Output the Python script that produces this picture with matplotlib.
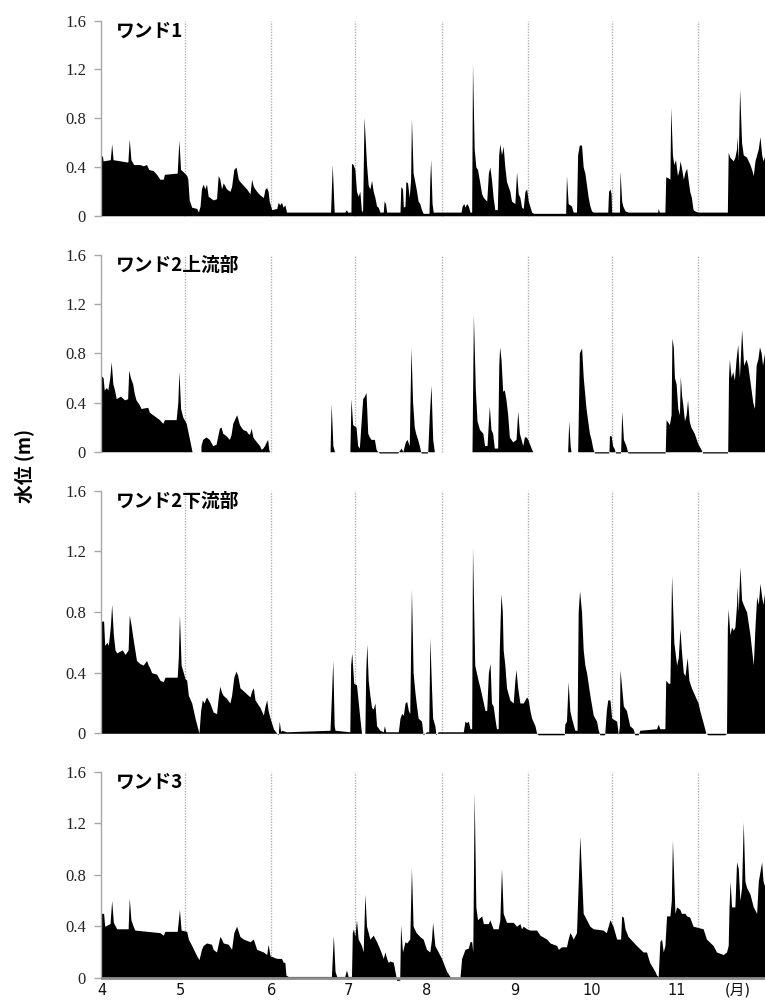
import matplotlib
matplotlib.use('Agg')

import numpy as np
import matplotlib.pyplot as plt

plt.rcParams['font.family'] = ['Noto Sans CJK JP', 'DejaVu Sans']

# === Data (day from Apr 1, water level m) ===
wando1 = [
    (0.0, 0.49), (0.4, 0.49), (0.6, 0.45), (3.2, 0.46), (3.7, 0.59), (4.2, 0.46), (9.5, 0.44),
    (10.0, 0.63), (10.6, 0.46), (11.6, 0.42), (13.8, 0.42), (15.0, 0.41), (16.2, 0.42), (17.0, 0.38),
    (18.6, 0.37), (19.8, 0.34), (21.0, 0.30), (22.2, 0.30), (22.6, 0.34), (27.2, 0.35), (27.8, 0.62),
    (28.4, 0.38), (29.4, 0.36), (30.6, 0.33), (31.0, 0.30), (31.5, 0.13), (32.4, 0.07), (34.2, 0.06),
    (34.8, 0.03), (35.4, 0.08), (35.9, 0.22), (36.5, 0.26), (37.1, 0.22), (37.7, 0.26), (38.3, 0.16),
    (38.9, 0.15), (40.1, 0.13), (41.3, 0.14), (41.9, 0.33), (42.5, 0.30), (43.1, 0.22), (43.7, 0.27),
    (44.9, 0.22), (46.1, 0.20), (46.7, 0.24), (47.5, 0.38), (48.3, 0.40), (49.1, 0.30), (49.7, 0.28),
    (50.9, 0.25), (52.1, 0.22), (52.7, 0.20), (53.3, 0.18), (53.9, 0.30), (54.5, 0.24), (55.7, 0.20),
    (56.9, 0.17), (58.1, 0.15), (58.7, 0.22), (59.3, 0.23), (59.8, 0.20), (60.2, 0.12), (60.7, 0.08),
    (61.1, 0.05), (62.9, 0.06), (63.4, 0.11), (64.0, 0.09), (64.6, 0.11), (65.2, 0.07), (65.8, 0.09),
    (66.4, 0.03), (82.2, 0.03), (82.8, 0.42), (83.5, 0.03), (87.3, 0.03), (87.9, 0.05), (88.3, 0.03),
    (89.5, 0.03), (89.7, 0.43), (90.3, 0.42), (90.9, 0.38), (91.5, 0.20), (92.1, 0.16), (92.7, 0.20),
    (93.3, 0.03), (93.7, 0.05), (94.2, 0.81), (95.1, 0.42), (95.7, 0.25), (96.3, 0.22), (96.9, 0.29),
    (97.5, 0.20), (98.1, 0.15), (98.7, 0.08), (99.3, 0.07), (99.9, 0.03), (101.1, 0.03), (101.4, 0.12),
    (101.9, 0.10), (102.3, 0.03), (107.1, 0.03), (107.4, 0.24), (108.0, 0.22), (108.3, 0.07),
    (108.9, 0.08), (109.2, 0.28), (109.8, 0.27), (110.4, 0.15), (110.9, 0.30), (111.2, 0.80),
    (111.8, 0.35), (112.4, 0.28), (112.9, 0.22), (113.6, 0.12), (114.2, 0.10), (114.8, 0.05),
    (115.4, 0.02), (117.5, 0.02), (117.8, 0.30), (118.1, 0.46), (118.6, 0.10), (119.0, 0.03),
    (129.0, 0.03), (129.4, 0.08), (130.0, 0.10), (130.4, 0.07), (131.0, 0.10), (131.6, 0.08),
    (132.2, 0.03), (132.8, 0.03), (133.1, 1.25), (133.7, 0.55), (134.3, 0.40), (134.9, 0.38),
    (135.5, 0.30), (136.4, 0.18), (137.0, 0.15), (138.2, 0.12), (138.8, 0.35), (139.3, 0.40),
    (139.9, 0.30), (140.5, 0.15), (141.1, 0.05), (142.0, 0.05), (142.5, 0.50), (142.9, 0.59),
    (143.5, 0.50), (144.1, 0.57), (144.7, 0.40), (145.3, 0.28), (146.5, 0.20), (147.1, 0.12),
    (148.3, 0.10), (148.9, 0.36), (149.5, 0.18), (150.1, 0.15), (150.7, 0.07), (151.3, 0.06),
    (151.9, 0.20), (152.5, 0.22), (153.1, 0.12), (154.3, 0.03), (155.0, 0.02), (166.5, 0.02),
    (166.8, 0.33), (167.4, 0.10), (168.6, 0.08), (169.2, 0.03), (170.4, 0.03), (170.8, 0.50),
    (171.4, 0.58), (172.2, 0.58), (172.8, 0.40), (173.4, 0.35), (174.0, 0.25), (174.6, 0.15),
    (175.2, 0.08), (175.8, 0.04), (176.4, 0.03), (181.6, 0.03), (181.9, 0.20), (182.4, 0.22),
    (182.8, 0.18), (183.0, 0.03), (185.8, 0.03), (186.0, 0.37), (186.6, 0.12), (187.0, 0.08),
    (187.8, 0.04), (188.9, 0.03), (199.5, 0.03), (199.7, 0.06), (200.1, 0.03), (202.1, 0.03),
    (202.4, 0.32), (203.3, 0.31), (203.9, 0.30), (204.2, 0.89), (204.8, 0.50), (205.3, 0.42),
    (205.9, 0.46), (206.6, 0.33), (207.2, 0.38), (207.5, 0.45), (208.0, 0.40), (208.7, 0.30),
    (209.3, 0.36), (209.9, 0.39), (210.4, 0.30), (211.0, 0.20), (211.6, 0.15), (212.2, 0.05),
    (212.8, 0.04), (214.0, 0.03), (224.5, 0.03), (224.8, 0.52), (225.4, 0.48), (226.6, 0.45),
    (227.2, 0.48), (227.8, 0.55), (228.0, 0.65), (228.4, 0.45), (228.9, 1.04), (229.6, 0.60),
    (230.2, 0.50), (231.4, 0.48), (232.0, 0.45), (232.6, 0.42), (233.2, 0.38), (233.8, 0.33),
    (234.4, 0.45), (235.0, 0.50), (235.6, 0.55), (236.2, 0.65), (236.8, 0.50), (237.3, 0.45),
    (238.0, 0.50),
]

wando2_up = [
    (0.0, 0.62), (0.8, 0.60), (1.2, 0.50), (2.0, 0.52), (2.5, 0.50), (3.2, 0.60), (3.7, 0.73),
    (4.3, 0.55), (4.9, 0.50), (5.5, 0.43), (7.0, 0.45), (8.5, 0.42), (9.6, 0.43), (10.0, 0.66),
    (10.6, 0.60), (11.4, 0.55), (12.0, 0.47), (12.6, 0.42), (13.8, 0.38), (14.4, 0.35), (16.8, 0.36),
    (17.4, 0.32), (18.6, 0.30), (19.8, 0.28), (21.0, 0.26), (22.2, 0.23), (22.8, 0.26), (27.0, 0.26),
    (27.6, 0.40), (28.0, 0.65), (28.6, 0.35), (29.4, 0.28), (30.6, 0.23), (31.8, 0.10), (32.7, 0.00),
    (32.8, np.nan), (35.8, np.nan), (35.9, 0.05), (36.5, 0.10), (37.7, 0.12), (38.9, 0.10),
    (40.1, 0.05), (41.3, 0.06), (42.5, 0.19), (43.1, 0.20), (43.7, 0.15), (44.9, 0.13), (46.1, 0.10),
    (46.7, 0.14), (47.3, 0.23), (48.3, 0.28), (48.7, 0.30), (49.7, 0.22), (50.9, 0.18), (52.1, 0.17),
    (52.7, 0.15), (53.3, 0.14), (53.9, 0.19), (54.5, 0.12), (55.1, 0.10), (56.9, 0.05), (57.5, 0.02),
    (58.1, 0.03), (58.7, 0.05), (59.3, 0.08), (59.8, 0.10), (60.2, 0.02), (60.5, 0.00), (82.2, 0.00),
    (82.6, 0.39), (83.2, 0.05), (83.8, 0.00), (89.3, 0.00), (89.7, 0.43), (90.3, 0.22), (91.5, 0.20),
    (92.1, 0.05), (92.7, 0.03), (93.9, 0.43), (94.5, 0.45), (95.1, 0.48), (95.7, 0.15), (96.3, 0.12),
    (96.9, 0.10), (98.1, 0.10), (98.7, 0.02), (99.3, 0.00), (99.9, -0.01), (106.5, -0.01),
    (107.7, 0.03), (108.3, 0.00), (109.2, 0.08), (109.8, 0.10), (110.6, 0.05), (111.2, 0.84),
    (111.8, 0.40), (112.4, 0.20), (112.9, 0.15), (113.6, 0.10), (114.2, 0.05), (114.8, -0.01),
    (117.2, -0.01), (117.8, 0.30), (118.4, 0.54), (119.0, 0.10), (119.6, 0.00), (133.1, 0.00),
    (133.6, 1.11), (134.3, 0.50), (134.9, 0.25), (135.8, 0.18), (137.0, 0.15), (137.6, 0.05),
    (138.5, 0.05), (139.3, 0.37), (139.9, 0.18), (140.5, 0.15), (141.1, 0.03), (142.3, 0.03),
    (142.7, 0.70), (143.0, 0.85), (143.5, 0.75), (144.1, 0.49), (144.7, 0.50), (145.3, 0.42),
    (145.9, 0.30), (146.5, 0.12), (147.7, 0.08), (148.9, 0.10), (149.5, 0.33), (150.1, 0.15),
    (150.7, 0.10), (151.3, 0.05), (151.9, 0.12), (152.5, 0.12), (153.1, 0.10), (154.3, 0.03),
    (154.9, 0.00), (167.4, 0.00), (167.8, 0.25), (168.3, 0.05), (168.6, 0.00), (171.0, 0.00),
    (171.6, 0.80), (172.4, 0.84), (173.0, 0.60), (173.4, 0.50), (174.0, 0.35), (174.6, 0.25),
    (175.2, 0.15), (175.8, 0.10), (176.4, 0.03), (177.0, -0.01), (182.2, -0.01), (182.4, 0.13),
    (183.0, 0.13), (183.5, 0.05), (184.2, 0.02), (184.5, -0.01), (186.4, -0.01), (186.8, 0.33),
    (187.4, 0.10), (188.3, 0.05), (189.0, -0.01), (202.4, -0.01), (202.7, 0.26), (203.3, 0.24),
    (203.9, 0.22), (204.5, 0.30), (204.8, 0.92), (205.3, 0.85), (205.7, 0.60), (206.3, 0.55),
    (206.9, 0.35), (207.5, 0.30), (207.8, 0.61), (208.3, 0.45), (208.7, 0.38), (209.3, 0.25),
    (209.9, 0.30), (210.4, 0.42), (211.0, 0.25), (211.6, 0.20), (212.8, 0.15), (214.0, 0.07),
    (215.2, 0.02), (215.8, -0.01), (224.8, -0.01), (225.1, 0.60), (225.4, 0.75), (226.0, 0.60),
    (226.6, 0.65), (227.2, 0.58), (227.8, 0.75), (228.4, 0.87), (229.0, 0.60), (229.8, 0.99),
    (230.5, 0.70), (231.4, 0.75), (232.0, 0.70), (233.2, 0.50), (233.8, 0.40), (234.4, 0.35),
    (235.0, 0.70), (235.6, 0.75), (236.2, 0.85), (236.8, 0.80), (237.3, 0.70), (238.0, 0.80),
]

wando2_down = [
    (0.0, 0.74), (0.8, 0.74), (1.2, 0.58), (2.0, 0.60), (2.5, 0.58), (3.2, 0.70), (3.7, 0.85),
    (4.3, 0.65), (4.9, 0.55), (5.5, 0.53), (7.5, 0.55), (8.5, 0.52), (9.6, 0.55), (10.0, 0.78),
    (10.6, 0.72), (11.4, 0.62), (12.0, 0.55), (12.6, 0.48), (13.8, 0.46), (15.0, 0.45), (16.2, 0.48),
    (16.8, 0.45), (17.4, 0.43), (18.0, 0.40), (19.8, 0.39), (21.0, 0.35), (22.2, 0.34), (22.8, 0.37),
    (27.2, 0.37), (27.6, 0.50), (28.0, 0.78), (28.6, 0.45), (29.4, 0.40), (30.0, 0.36), (30.6, 0.35),
    (31.2, 0.25), (32.4, 0.20), (33.6, 0.10), (35.0, 0.00), (35.6, 0.15), (36.2, 0.22), (36.8, 0.20),
    (37.7, 0.24), (38.9, 0.20), (40.1, 0.14), (41.3, 0.13), (42.0, 0.25), (42.5, 0.31), (43.1, 0.27),
    (43.7, 0.25), (44.9, 0.23), (46.1, 0.20), (46.7, 0.25), (47.5, 0.37), (48.3, 0.41), (48.9, 0.38),
    (49.7, 0.30), (50.9, 0.28), (52.1, 0.26), (53.3, 0.24), (53.9, 0.28), (54.5, 0.30), (55.1, 0.22),
    (56.9, 0.17), (58.1, 0.12), (58.7, 0.18), (59.3, 0.22), (59.8, 0.15), (60.5, 0.10), (61.7, 0.03),
    (62.9, 0.00), (63.4, -0.01), (63.8, 0.08), (64.3, 0.01), (64.6, 0.02), (66.4, 0.01), (82.0, 0.02),
    (82.4, 0.20), (83.0, 0.48), (83.5, 0.05), (83.8, 0.02), (89.1, 0.01), (89.4, 0.45), (89.8, 0.53),
    (90.5, 0.33), (91.5, 0.32), (92.7, 0.10), (93.3, 0.00), (94.5, 0.00), (94.8, 0.40), (95.2, 0.59),
    (95.7, 0.35), (96.3, 0.25), (96.9, 0.17), (97.5, 0.16), (98.1, 0.20), (98.7, 0.05), (99.9, 0.02),
    (101.1, 0.01), (101.5, 0.05), (102.0, 0.01), (106.5, 0.01), (107.1, 0.10), (107.7, 0.13),
    (108.3, 0.12), (108.9, 0.20), (109.5, 0.21), (110.1, 0.15), (110.6, 0.13), (111.2, 0.95),
    (111.8, 0.40), (112.4, 0.28), (112.9, 0.20), (113.6, 0.10), (114.8, 0.08), (115.4, -0.01),
    (116.6, 0.01), (117.4, 0.01), (117.8, 0.63), (118.4, 0.30), (118.8, 0.10), (119.6, 0.05),
    (120.0, -0.01), (120.8, 0.01), (129.8, 0.01), (130.4, 0.08), (131.0, 0.07), (131.6, 0.08),
    (132.2, 0.03), (132.8, 0.03), (133.1, 1.23), (133.9, 0.45), (134.5, 0.40), (135.1, 0.35),
    (135.8, 0.30), (137.0, 0.20), (137.6, 0.15), (138.2, 0.15), (138.8, 0.40), (139.4, 0.46),
    (139.9, 0.20), (140.5, 0.18), (141.1, 0.10), (141.7, 0.03), (142.3, 0.03), (142.7, 0.55),
    (143.3, 0.92), (143.8, 0.80), (144.1, 0.55), (144.7, 0.45), (145.3, 0.30), (146.5, 0.22),
    (147.7, 0.20), (148.3, 0.35), (148.7, 0.42), (149.3, 0.30), (150.1, 0.20), (151.3, 0.20),
    (152.5, 0.24), (153.1, 0.22), (153.7, 0.15), (154.3, 0.10), (155.5, 0.05), (156.1, 0.00),
    (156.7, -0.01), (166.0, -0.01), (166.2, 0.06), (166.8, 0.08), (167.4, 0.34), (168.0, 0.15),
    (168.6, 0.10), (169.8, 0.02), (170.6, 0.02), (171.0, 0.80), (171.5, 0.94), (172.2, 0.80),
    (172.8, 0.55), (173.4, 0.45), (174.0, 0.40), (175.2, 0.25), (176.4, 0.12), (177.6, 0.08),
    (178.2, 0.02), (178.8, -0.01), (180.5, -0.01), (181.1, 0.15), (181.6, 0.22), (182.4, 0.22),
    (183.0, 0.10), (184.8, 0.08), (185.4, -0.01), (185.8, 0.05), (186.0, 0.42), (186.6, 0.30),
    (187.2, 0.18), (188.3, 0.15), (189.5, 0.05), (190.7, 0.03), (191.3, -0.01), (192.5, -0.01),
    (193.1, 0.02), (199.1, 0.03), (199.7, 0.06), (200.3, 0.03), (202.1, 0.03), (202.4, 0.35),
    (203.3, 0.33), (203.9, 0.33), (204.5, 1.04), (205.3, 0.60), (206.3, 0.45), (206.9, 0.50),
    (207.5, 0.69), (208.0, 0.55), (208.7, 0.40), (209.3, 0.38), (210.1, 0.50), (210.7, 0.35),
    (211.6, 0.30), (212.8, 0.25), (214.0, 0.20), (214.6, 0.15), (215.8, 0.07), (216.8, 0.00),
    (217.6, -0.01), (223.6, -0.01), (224.2, 0.00), (224.5, 0.70), (224.8, 0.82), (225.4, 0.65),
    (226.0, 0.70), (226.6, 0.68), (227.2, 0.70), (227.8, 0.85), (228.0, 0.97), (228.4, 0.80),
    (229.0, 1.10), (229.6, 0.88), (230.2, 0.85), (231.4, 0.80), (232.6, 0.65), (233.2, 0.55),
    (233.8, 0.45), (234.4, 0.70), (235.0, 0.90), (235.6, 0.85), (236.2, 0.99), (236.8, 0.90),
    (237.3, 0.85), (238.0, 0.95),
]

wando3 = [
    (0.0, 0.50), (0.8, 0.50), (1.2, 0.40), (3.1, 0.42), (3.7, 0.60), (4.3, 0.43), (5.5, 0.38),
    (9.6, 0.38), (10.0, 0.62), (10.6, 0.45), (11.4, 0.40), (12.0, 0.37), (21.0, 0.35), (22.2, 0.33),
    (22.8, 0.36), (27.2, 0.36), (28.0, 0.53), (28.6, 0.37), (30.6, 0.36), (31.2, 0.30), (32.4, 0.25),
    (34.2, 0.17), (35.0, 0.14), (35.9, 0.22), (36.5, 0.25), (37.7, 0.27), (39.5, 0.26), (40.1, 0.22),
    (41.3, 0.20), (42.5, 0.32), (43.1, 0.30), (43.7, 0.27), (45.5, 0.26), (46.7, 0.22), (47.5, 0.35),
    (48.5, 0.40), (49.7, 0.32), (50.9, 0.30), (53.3, 0.28), (54.5, 0.30), (55.7, 0.22), (58.1, 0.20),
    (59.3, 0.18), (59.8, 0.26), (60.5, 0.17), (62.9, 0.15), (64.6, 0.15), (65.2, 0.12), (65.8, 0.12),
    (66.2, 0.02), (67.0, 0.01), (82.5, 0.01), (83.2, 0.33), (83.8, 0.05), (84.4, 0.01), (87.3, 0.01),
    (87.9, 0.06), (88.5, 0.01), (89.7, 0.01), (90.0, 0.35), (90.4, 0.38), (90.9, 0.32), (91.5, 0.45),
    (92.1, 0.30), (93.3, 0.25), (93.9, 0.20), (94.5, 0.65), (95.1, 0.40), (95.7, 0.35), (96.3, 0.30),
    (97.5, 0.33), (98.7, 0.28), (99.9, 0.22), (101.1, 0.15), (101.7, 0.20), (102.3, 0.15),
    (102.9, 0.12), (103.5, 0.13), (104.7, 0.12), (105.3, 0.05), (105.9, -0.02), (107.0, -0.02),
    (107.3, 0.41), (108.0, 0.20), (108.9, 0.28), (109.5, 0.27), (110.6, 0.30), (111.2, 0.85),
    (111.8, 0.40), (112.9, 0.35), (114.2, 0.32), (115.4, 0.30), (116.6, 0.22), (117.8, 0.20),
    (118.4, 0.30), (118.8, 0.43), (119.6, 0.25), (120.8, 0.20), (122.0, 0.15), (123.8, 0.05),
    (125.0, 0.01), (125.6, 0.00), (128.6, 0.00), (129.2, 0.15), (130.4, 0.22), (131.6, 0.23),
    (132.2, 0.28), (132.8, 0.28), (133.2, 0.20), (133.7, 1.44), (134.3, 0.55), (134.9, 0.45),
    (136.4, 0.48), (137.0, 0.42), (138.8, 0.42), (139.3, 0.45), (140.5, 0.38), (142.3, 0.38),
    (142.9, 0.45), (143.5, 0.85), (144.1, 0.50), (145.3, 0.43), (147.7, 0.43), (148.9, 0.40),
    (150.1, 0.42), (150.7, 0.38), (151.3, 0.40), (152.5, 0.38), (153.7, 0.37), (156.1, 0.37),
    (157.3, 0.33), (159.7, 0.30), (160.9, 0.27), (163.3, 0.25), (163.9, 0.22), (165.0, 0.24),
    (166.8, 0.24), (167.4, 0.30), (168.0, 0.35), (168.6, 0.33), (169.2, 0.30), (170.4, 0.35),
    (171.6, 1.10), (172.2, 0.80), (172.8, 0.50), (174.0, 0.45), (175.2, 0.40), (176.4, 0.38),
    (179.9, 0.37), (181.1, 0.35), (182.4, 0.45), (183.5, 0.40), (184.8, 0.30), (186.2, 0.30),
    (186.6, 0.48), (187.2, 0.47), (187.8, 0.38), (188.9, 0.32), (191.9, 0.25), (194.3, 0.20),
    (195.5, 0.20), (196.6, 0.12), (198.5, 0.05), (199.1, 0.02), (199.7, 0.01), (200.3, 0.28),
    (200.9, 0.30), (201.5, 0.20), (202.1, 0.25), (202.7, 0.48), (203.9, 0.48), (204.4, 0.60),
    (204.8, 1.07), (205.7, 0.50), (206.3, 0.55), (207.5, 0.53), (208.0, 0.50), (209.3, 0.50),
    (209.9, 0.48), (211.0, 0.47), (212.2, 0.40), (215.8, 0.38), (217.0, 0.30), (219.4, 0.25),
    (220.6, 0.20), (223.0, 0.18), (224.2, 0.20), (224.8, 0.25), (225.1, 0.55), (225.5, 0.75),
    (226.0, 0.55), (227.2, 0.55), (227.8, 0.90), (228.4, 0.85), (229.0, 0.60), (229.6, 0.70),
    (230.2, 1.21), (230.8, 0.75), (231.4, 0.70), (232.6, 0.65), (233.8, 0.55), (235.0, 0.50),
    (235.6, 0.75), (236.8, 0.90), (237.3, 0.75), (238.0, 0.70),
]

panel_names = ['ワンド1', 'ワンド2上流部', 'ワンド2下流部', 'ワンド3']
month_lines = [30, 61, 91, 122, 153, 183, 214]          # 5/1 ... 11/1
month_tick_pos = [0.1, 28.2, 61.1, 88.5, 116.7, 148.3, 175.9, 206.3, 228.3]
month_tick_labels = ['4', '5', '6', '7', '8', '9', '10', '11', '(月)']
y_ticks = [0, 0.4, 0.8, 1.2, 1.6]
y_tick_labels = ['0', '0.4', '0.8', '1.2', '1.6']


def plot_water_levels():
    fig = plt.figure(figsize=(7.65, 10.01), dpi=100)

    # [left, bottom, width, height] in figure fraction
    boxes = [
        [0.1325, 0.7808, 0.8675, 0.1985],
        [0.1325, 0.5445, 0.8675, 0.2011],
        [0.1325, 0.2629, 0.8675, 0.2469],
        [0.1325, 0.0194, 0.8675, 0.2097],
    ]
    series = [wando1, wando2_up, wando2_down, wando3]

    for i, (box, pts, name) in enumerate(zip(boxes, series, panel_names)):
        ax = fig.add_axes(box)
        days = np.array([p[0] for p in pts])
        lvl = np.array([p[1] for p in pts])

        # month separators
        for m in month_lines:
            ax.plot([m, m], [0, 1.6], color='#b0b0b0', lw=1.0,
                    linestyle=(0, (1, 1)), zorder=0)

        ax.fill_between(days, lvl, 0, color='black', lw=0, zorder=2)

        ax.set_xlim(0, 238)
        ax.set_ylim(-0.03, 1.6)
        for side in ['top', 'right', 'bottom']:
            ax.spines[side].set_visible(False)
        ax.spines['left'].set_color('#a8a8a8')
        ax.spines['left'].set_linewidth(1.0)
        ax.spines['left'].set_bounds(0, 1.6)

        ax.set_yticks(y_ticks)
        ax.set_yticklabels(y_tick_labels)
        ax.tick_params(axis='y', length=5, width=1, color='#a8a8a8', pad=6,
                       labelsize=12, labelcolor='#222222',
                       labelfontfamily='Liberation Serif')

        if i == 3:
            ax.axhline(0, color='#8c8c8c', lw=2, zorder=3)
            ax.set_xticks(month_tick_pos)
            ax.set_xticklabels(month_tick_labels)
            for lbl in ax.get_xticklabels():
                lbl.set_fontfamily(['DejaVu Sans', 'Noto Sans CJK JP'])
                lbl.set_fontsize(10.5)
                lbl.set_color('#111111')
            ax.tick_params(axis='x', length=0, pad=1)
        else:
            ax.set_xticks([])

        ax.text(0.022, 0.995, name, transform=ax.transAxes, fontsize=13.5,
                fontweight='bold', va='top', ha='left', zorder=5)

    fig.text(0.032, 0.535, '水位 (m)', rotation=90, fontsize=13.5,
             fontweight='bold', ha='center', va='center')

    fig.savefig('out.png', dpi=100)


if __name__ == '__main__':
    plot_water_levels()
